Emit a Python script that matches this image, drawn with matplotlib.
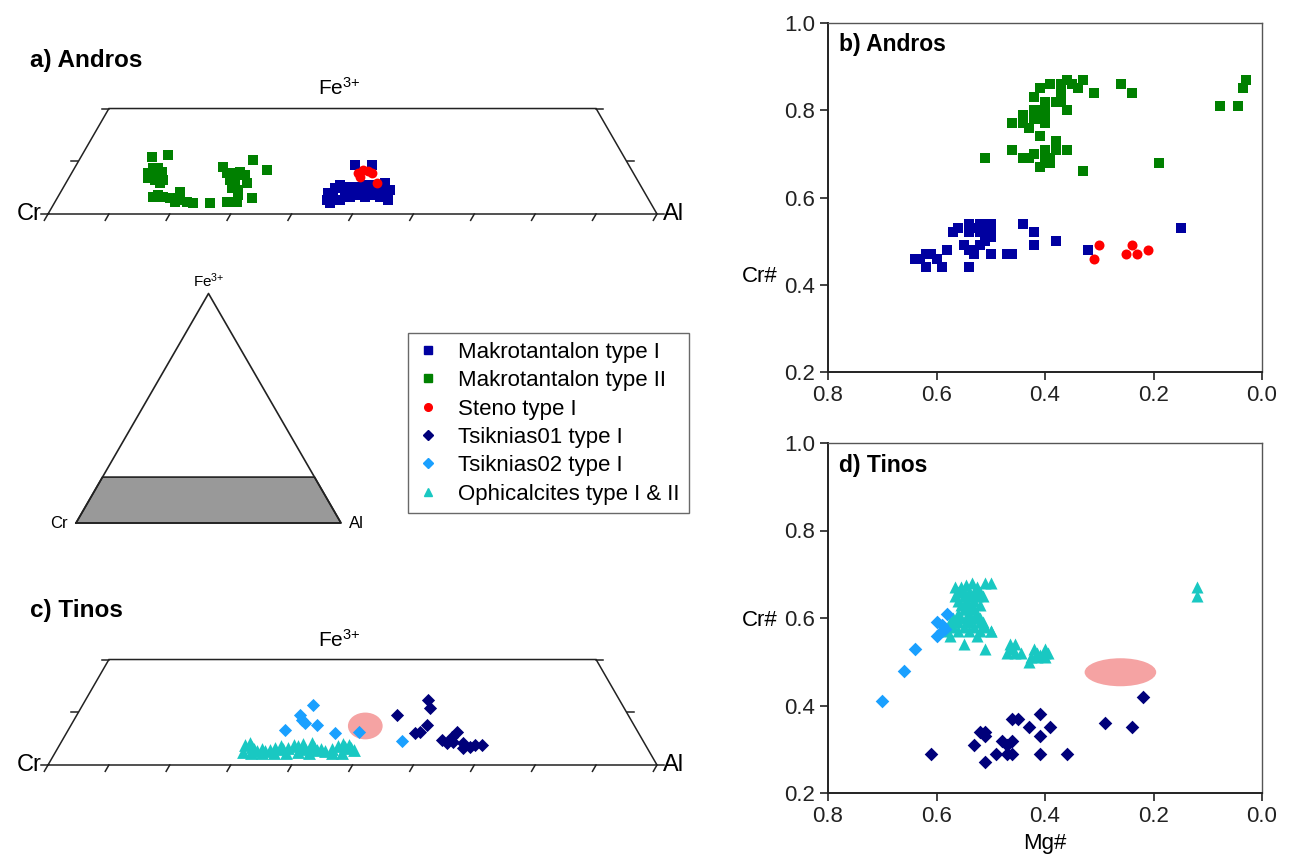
import numpy as np
import matplotlib
matplotlib.use("Agg")
import matplotlib.pyplot as plt
from matplotlib.lines import Line2D
from matplotlib.patches import Ellipse, Polygon

plt.rcParams['font.family'] = ['Liberation Sans', 'DejaVu Sans']
plt.rcParams['mathtext.fontset'] = 'custom'
plt.rcParams['mathtext.rm'] = 'Liberation Sans'
plt.rcParams['mathtext.it'] = 'Liberation Sans'

W, H = 1289, 860
S3 = np.sqrt(3) / 2

# colours
C_MAK1 = '#0000A0'
C_MAK2 = '#008000'
C_STENO = '#FF0000'
C_TS01 = '#00007A'
C_TS02 = '#1AA0FF'
C_OPH = '#19C8C2'
C_FIELD = '#F5A3A3'

labels = ['Makrotantalon type I', 'Makrotantalon type II', 'Steno type I',
          'Tsiknias01 type I', 'Tsiknias02 type I', 'Ophicalcites type I & II']

# ---- ternary data (Al, Fe3+ fractions) ----
# a) Andros
a_mak2_al = [0.117, 0.141, 0.125, 0.129, 0.137, 0.140, 0.147, 0.130, 0.144, 0.157, 0.155,
             0.156, 0.173, 0.185, 0.196, 0.204, 0.217, 0.228, 0.197, 0.163, 0.256,
             0.243, 0.255, 0.268, 0.275, 0.267, 0.278, 0.278, 0.289, 0.294, 0.299, 0.283,
             0.286, 0.318, 0.320, 0.297, 0.286]
a_mak2_fe = [0.108, 0.112, 0.078, 0.087, 0.087, 0.078, 0.080, 0.068, 0.064, 0.064, 0.059,
             0.032, 0.032, 0.030, 0.042, 0.027, 0.023, 0.021, 0.023, 0.036, 0.021,
             0.089, 0.078, 0.078, 0.080, 0.064, 0.059, 0.049, 0.046, 0.036, 0.023, 0.023,
             0.102, 0.083, 0.030, 0.059, 0.074]
a_mak1_al = [0.458, 0.486, 0.447, 0.452, 0.465, 0.470, 0.487, 0.493, 0.509, 0.524, 0.539,
             0.445, 0.453, 0.466, 0.480, 0.491, 0.505, 0.514, 0.529, 0.545, 0.536, 0.440,
             0.483, 0.506, 0.453, 0.475, 0.498, 0.520]
a_mak1_fe = [0.093, 0.093, 0.049, 0.055, 0.046, 0.051, 0.051, 0.055, 0.055, 0.059, 0.046,
             0.027, 0.030, 0.027, 0.032, 0.036, 0.032, 0.036, 0.032, 0.027, 0.042, 0.040,
             0.042, 0.046, 0.021, 0.040, 0.040, 0.044]
a_steno_al = [0.470, 0.476, 0.484, 0.493, 0.511, 0.477]
a_steno_fe = [0.078, 0.083, 0.082, 0.078, 0.059, 0.070]

# c) Tinos
c_ts01_al = [0.526, 0.562, 0.573, 0.584, 0.579, 0.572, 0.624, 0.634, 0.637, 0.640, 0.643,
             0.660, 0.676, 0.682, 0.694, 0.665]
c_ts01_fe = [0.095, 0.123, 0.108, 0.076, 0.063, 0.061, 0.047, 0.042, 0.053, 0.063, 0.044,
             0.042, 0.034, 0.038, 0.038, 0.032]
c_ts02_al = [0.356, 0.367, 0.375, 0.382, 0.378, 0.404, 0.441, 0.479, 0.558]
c_ts02_fe = [0.066, 0.095, 0.085, 0.080, 0.114, 0.076, 0.061, 0.063, 0.046]
c_oph_al = [0.305, 0.311, 0.317, 0.323, 0.329, 0.336, 0.343, 0.350, 0.357, 0.364, 0.371,
            0.378, 0.385, 0.392, 0.399, 0.406, 0.413, 0.420, 0.427, 0.434, 0.441,
            0.452, 0.458, 0.464, 0.470, 0.476, 0.482, 0.488,
            0.308, 0.322, 0.340, 0.360, 0.380, 0.398, 0.417, 0.455, 0.472]
c_oph_fe = [0.038, 0.042, 0.035, 0.030, 0.027, 0.031, 0.026, 0.028, 0.032, 0.036, 0.030,
            0.033, 0.038, 0.036, 0.040, 0.031, 0.042, 0.034, 0.028, 0.030, 0.027,
            0.030, 0.036, 0.040, 0.034, 0.038, 0.032, 0.028,
            0.024, 0.023, 0.022, 0.023, 0.022, 0.024, 0.022, 0.023, 0.022]
c_field_al, c_field_fe = 0.484, 0.074

# ---- Cr# vs Mg# data ----
# b) Andros
b_mak2_mg = [0.03, 0.035, 0.044, 0.077, 0.19, 0.24, 0.26, 0.31, 0.33, 0.33, 0.34, 0.35,
             0.36, 0.36, 0.37, 0.37, 0.37, 0.38, 0.39, 0.36, 0.38, 0.38, 0.39, 0.39, 0.40,
             0.40, 0.40, 0.41, 0.41, 0.40, 0.40, 0.40, 0.40, 0.41, 0.42, 0.42, 0.42, 0.43,
             0.44, 0.44, 0.46, 0.42, 0.43, 0.44, 0.46, 0.51, 0.41, 0.41]
b_mak2_cr = [0.87, 0.85, 0.81, 0.81, 0.68, 0.84, 0.86, 0.84, 0.87, 0.66, 0.85, 0.86,
             0.87, 0.80, 0.86, 0.82, 0.84, 0.82, 0.86, 0.71, 0.73, 0.71, 0.69, 0.68, 0.71,
             0.69, 0.68, 0.67, 0.74, 0.82, 0.80, 0.78, 0.77, 0.85, 0.83, 0.80, 0.78, 0.76,
             0.79, 0.77, 0.77, 0.70, 0.69, 0.69, 0.71, 0.69, 0.80, 0.78]
b_mak1_mg = [0.15, 0.32, 0.38, 0.42, 0.42, 0.44, 0.46, 0.47, 0.50, 0.50, 0.50, 0.50,
             0.51, 0.51, 0.51, 0.52, 0.52, 0.52, 0.53, 0.53, 0.53, 0.54, 0.54, 0.54,
             0.55, 0.54, 0.56, 0.57, 0.58, 0.59, 0.60, 0.61, 0.62, 0.62, 0.64, 0.63]
b_mak1_cr = [0.53, 0.48, 0.50, 0.52, 0.49, 0.54, 0.47, 0.47, 0.47, 0.51, 0.53, 0.54,
             0.52, 0.54, 0.50, 0.54, 0.52, 0.49, 0.53, 0.48, 0.47, 0.54, 0.52, 0.48,
             0.49, 0.44, 0.53, 0.52, 0.48, 0.44, 0.46, 0.47, 0.47, 0.44, 0.46, 0.46]
b_steno_mg = [0.30, 0.31, 0.24, 0.25, 0.23, 0.21]
b_steno_cr = [0.49, 0.46, 0.49, 0.47, 0.47, 0.48]

# d) Tinos
d_ts01_mg = [0.61, 0.53, 0.52, 0.51, 0.51, 0.51, 0.49, 0.48, 0.47, 0.46, 0.47, 0.46,
             0.46, 0.45, 0.43, 0.41, 0.41, 0.41, 0.39, 0.36, 0.29, 0.24, 0.22]
d_ts01_cr = [0.29, 0.31, 0.34, 0.34, 0.33, 0.27, 0.29, 0.32, 0.31, 0.32, 0.29, 0.29,
             0.37, 0.37, 0.35, 0.38, 0.33, 0.29, 0.35, 0.29, 0.36, 0.35, 0.42]
d_ts02_mg = [0.70, 0.66, 0.64, 0.60, 0.60, 0.59, 0.59, 0.58, 0.585]
d_ts02_cr = [0.41, 0.48, 0.53, 0.56, 0.59, 0.57, 0.585, 0.61, 0.575]
d_oph_mg = [0.565, 0.555, 0.545, 0.535, 0.525, 0.51, 0.50,
            0.56, 0.55, 0.54, 0.53, 0.52,
            0.565, 0.55, 0.54, 0.525, 0.515,
            0.56, 0.545, 0.53,
            0.555, 0.54, 0.535, 0.52,
            0.55, 0.545, 0.53,
            0.56, 0.54, 0.525,
            0.57, 0.555, 0.545, 0.53, 0.52,
            0.575, 0.56, 0.54, 0.52, 0.515,
            0.57, 0.55, 0.53, 0.51,
            0.58, 0.56, 0.54, 0.52, 0.50,
            0.575, 0.525, 0.55, 0.51, 0.50,
            0.465, 0.455, 0.46, 0.47, 0.455, 0.445, 0.42, 0.415, 0.425, 0.43, 0.415,
            0.40, 0.40, 0.40, 0.41, 0.395, 0.12, 0.12]
d_oph_cr = [0.67, 0.67, 0.675, 0.68, 0.67, 0.68, 0.68,
            0.66, 0.66, 0.66, 0.66, 0.66,
            0.65, 0.65, 0.65, 0.65, 0.65,
            0.64, 0.64, 0.64,
            0.63, 0.63, 0.63, 0.63,
            0.62, 0.62, 0.62,
            0.61, 0.61, 0.61,
            0.60, 0.60, 0.60, 0.60, 0.60,
            0.59, 0.59, 0.59, 0.59, 0.59,
            0.58, 0.58, 0.58, 0.58,
            0.57, 0.57, 0.57, 0.57, 0.57,
            0.56, 0.56, 0.54, 0.53, 0.57,
            0.54, 0.54, 0.53, 0.52, 0.52, 0.52, 0.53, 0.52, 0.51, 0.50, 0.51,
            0.53, 0.52, 0.51, 0.515, 0.52, 0.67, 0.65]
d_field_mg, d_field_cr = 0.261, 0.476
d_field_w, d_field_h = 0.132, 0.064

fig = plt.figure(figsize=(W / 100, H / 100), dpi=100)


def px_axes(left, top, width, height):
    return fig.add_axes([left / W, 1 - (top + height) / H, width / W, height / H])


def tern_xy(al, fe):
    al = np.asarray(al)
    fe = np.asarray(fe)
    return al + fe / 2, fe * S3


def tern_panel(x0, y0, side, fe_max, m=0.06):
    h = fe_max * S3
    ax = px_axes(x0 - m * side, y0 - (h + m) * side, (1 + 2 * m) * side, (h + 2 * m) * side)
    ax.set_xlim(-m, 1 + m)
    ax.set_ylim(-m, h + m)
    ax.axis('off')
    return ax


def trapezoid(ax, fe_max, lw=1.1):
    h = fe_max * S3
    xs = [0, 1, 1 - fe_max / 2, fe_max / 2, 0]
    ys = [0, 0, h, h, 0]
    ax.plot(xs, ys, color='#222222', lw=lw, solid_joinstyle='miter', clip_on=False)
    L = 0.012
    for a in np.arange(0, 1.01, 0.1):
        ax.plot([a, a - L * 0.5], [0, -L * S3], color='#222222', lw=lw, clip_on=False)
    for f in np.arange(0, fe_max + 0.01, 0.1):
        ax.plot([f / 2, f / 2 - L], [f * S3, f * S3], color='#222222', lw=lw, clip_on=False)
        ax.plot([1 - f / 2, 1 - f / 2 + L], [f * S3, f * S3], color='#222222', lw=lw, clip_on=False)


def tern_labels(ax, fe_y):
    ax.text(-0.01, 0, 'Cr', ha='right', va='center', fontsize=17)
    ax.text(1.01, 0, 'Al', ha='left', va='center', fontsize=17)
    ax.text(0.479, fe_y, 'Fe$^{3{+}}$', ha='center', va='center', fontsize=15)


# a) Andros ternary
ax_a = tern_panel(48, 214, 609, 0.2)
trapezoid(ax_a, 0.2)
tern_labels(ax_a, 0.207)
x, y = tern_xy(a_mak2_al, a_mak2_fe)
ax_a.scatter(x, y, marker='s', s=46, color=C_MAK2, lw=0, zorder=3)
x, y = tern_xy(a_mak1_al, a_mak1_fe)
ax_a.scatter(x, y, marker='s', s=46, color=C_MAK1, lw=0, zorder=3)
x, y = tern_xy(a_steno_al, a_steno_fe)
ax_a.scatter(x, y, marker='o', s=50, color=C_STENO, lw=0, zorder=4)
fig.text(30 / W, 1 - 60 / H, 'a) Andros', fontsize=17.5, fontweight='bold', va='center')

# c) Tinos ternary
ax_c = tern_panel(48, 765, 609, 0.2)
trapezoid(ax_c, 0.2)
tern_labels(ax_c, 0.205)
fx, fy = tern_xy(c_field_al, c_field_fe)
ax_c.add_patch(Ellipse((fx, fy), 0.057, 0.044, color=C_FIELD, lw=0, zorder=2))
x, y = tern_xy(c_oph_al, c_oph_fe)
ax_c.scatter(x, y, marker='^', s=85, color=C_OPH, lw=0, zorder=3)
x, y = tern_xy(c_ts02_al, c_ts02_fe)
ax_c.scatter(x, y, marker='D', s=45, color=C_TS02, lw=0, zorder=4)
x, y = tern_xy(c_ts01_al, c_ts01_fe)
ax_c.scatter(x, y, marker='D', s=45, color=C_TS01, lw=0, zorder=4)
fig.text(30 / W, 1 - 610 / H, 'c) Tinos', fontsize=17.5, fontweight='bold', va='center')

# small reference triangle
ax_t = tern_panel(76, 523, 265, 1.0, m=0.03)
band_x = [0, 1, 1 - 0.1, 0.1]
band_y = [0, 0, 0.2 * S3, 0.2 * S3]
ax_t.add_patch(Polygon(list(zip(band_x, band_y)), closed=True, facecolor='#999999',
                       edgecolor='#222222', lw=1.2))
ax_t.plot([0, 1, 0.5, 0], [0, 0, S3, 0], color='#222222', lw=1.2, clip_on=False)
ax_t.text(-0.03, 0, 'Cr', ha='right', va='center', fontsize=12)
ax_t.text(1.03, 0, 'Al', ha='left', va='center', fontsize=12)
ax_t.text(0.5, S3 + 0.05, 'Fe$^{3{+}}$', ha='center', va='center', fontsize=11)

# legend
handles = [
    Line2D([], [], ls='none', marker='s', ms=5.5, color=C_MAK1),
    Line2D([], [], ls='none', marker='s', ms=5.5, color=C_MAK2),
    Line2D([], [], ls='none', marker='o', ms=5.5, color=C_STENO),
    Line2D([], [], ls='none', marker='D', ms=5.5, color=C_TS01),
    Line2D([], [], ls='none', marker='D', ms=5.5, color=C_TS02),
    Line2D([], [], ls='none', marker='^', ms=6, color=C_OPH),
]
leg = fig.legend(handles, labels, loc='upper left', bbox_to_anchor=(408 / W, 1 - 333 / H),
                 fontsize=16, frameon=True, fancybox=False, borderaxespad=0,
                 handlelength=1.0, handletextpad=0.86, labelspacing=0.33, borderpad=0.4)
leg.get_frame().set_edgecolor('#444444')
leg.get_frame().set_linewidth(1.0)


def style_scatter(ax, title):
    ax.set_xlim(0.8, 0.0)
    ax.set_ylim(0.2, 1.0)
    ax.set_xticks([0.8, 0.6, 0.4, 0.2, 0.0])
    ax.set_yticks([0.2, 0.4, 0.6, 0.8, 1.0])
    ax.xaxis.set_major_formatter(plt.FormatStrFormatter('%.1f'))
    ax.yaxis.set_major_formatter(plt.FormatStrFormatter('%.1f'))
    ax.tick_params(direction='out', length=6, width=1.2, labelsize=16, colors='#222222')
    for side in ['left', 'bottom']:
        ax.spines[side].set_linewidth(1.4)
        ax.spines[side].set_color('#222222')
    for side in ['top', 'right']:
        ax.spines[side].set_linewidth(1.0)
        ax.spines[side].set_color('#555555')
    ax.text(0.025, 0.937, title, transform=ax.transAxes, fontsize=16.5, fontweight='bold',
            va='center', ha='left')


# b) Andros Cr# vs Mg#
ax_b = px_axes(828, 23, 434, 349)
style_scatter(ax_b, 'b) Andros')
ax_b.scatter(b_mak2_mg, b_mak2_cr, marker='s', s=48, color=C_MAK2, lw=0, zorder=3)
ax_b.scatter(b_mak1_mg, b_mak1_cr, marker='s', s=48, color=C_MAK1, lw=0, zorder=3)
ax_b.scatter(b_steno_mg, b_steno_cr, marker='o', s=52, color=C_STENO, lw=0, zorder=4)
fig.text(760 / W, 1 - 276 / H, 'Cr#', fontsize=16, ha='center', va='center')

# d) Tinos Cr# vs Mg#
ax_d = px_axes(828, 443, 434, 350)
style_scatter(ax_d, 'd) Tinos')
ax_d.add_patch(Ellipse((d_field_mg, d_field_cr), d_field_w, d_field_h, color=C_FIELD, lw=0, zorder=2))
ax_d.scatter(d_oph_mg, d_oph_cr, marker='^', s=75, color=C_OPH, lw=0, zorder=3)
ax_d.scatter(d_ts02_mg, d_ts02_cr, marker='D', s=48, color=C_TS02, lw=0, zorder=4)
ax_d.scatter(d_ts01_mg, d_ts01_cr, marker='D', s=48, color=C_TS01, lw=0, zorder=4)
ax_d.set_xlabel('Mg#', fontsize=16, labelpad=4)
fig.text(760 / W, 1 - 620 / H, 'Cr#', fontsize=16, ha='center', va='center')

fig.savefig('out.png', dpi=100)
